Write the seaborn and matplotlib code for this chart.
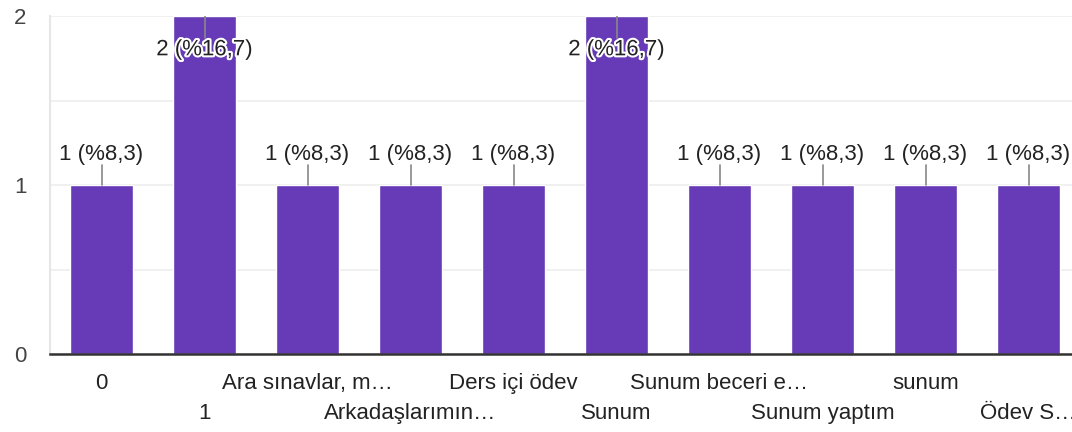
import matplotlib
matplotlib.use("Agg")
import matplotlib.pyplot as plt
import matplotlib.patheffects as pe
import seaborn as sns
import pandas as pd

# Answers and counts
categories = ["0", "1", "Ara sınavlar, m…", "Arkadaşlarımın…", "Ders içi ödev",
              "Sunum", "Sunum beceri e…", "Sunum yaptım", "sunum", "Ödev S…"]
counts = [1, 2, 1, 1, 1, 2, 1, 1, 1, 1]
percents = ["8,3", "16,7", "8,3", "8,3", "8,3", "16,7", "8,3", "8,3", "8,3", "8,3"]

df = pd.DataFrame({"answer": categories, "count": counts})

sns.set_style("white")
plt.rcParams['font.family'] = ['Liberation Sans', 'DejaVu Sans']

fig = plt.figure(figsize=(10.72, 4.32), dpi=100)
ax = fig.add_axes([50 / 1072, 1 - 354 / 432, 1030 / 1072, 338 / 432])

sns.barplot(data=df, x="answer", y="count", color="#673AB7", saturation=1,
            width=0.62, ax=ax, zorder=3)

ax.set_xlim(-0.5, len(categories) - 0.5)
ax.set_ylim(0, 2)
ax.set_yticks([0, 1, 2])
ax.set_yticks([0.5, 1.5], minor=True)
ax.grid(axis="y", which="both", color="#eeeeee", linewidth=1.2, zorder=0)

for s in ["top", "right"]:
    ax.spines[s].set_visible(False)
ax.spines["left"].set_color("#e6e6e6")
ax.spines["left"].set_linewidth(1.5)
ax.spines["bottom"].set_color("#333333")
ax.spines["bottom"].set_linewidth(1.8)
ax.spines["bottom"].set_zorder(5)

# tick labels on two alternating rows
ax.set_xticks(range(len(categories)))
ax.set_xticklabels(categories, fontsize=16, color="#222222")
ax.tick_params(axis="x", length=0)
for i, t in enumerate(ax.xaxis.get_major_ticks()):
    t.set_pad(14 if i % 2 == 0 else 35)
ax.tick_params(axis="y", which="both", length=0, pad=17, labelsize=16, labelcolor="#444444")
ax.set_xlabel("")
ax.set_ylabel("")

for i, (c, p) in enumerate(zip(counts, percents)):
    label = f"{c} (%{p})"
    if c == 2:
        ax.plot([i, i], [c, c - 0.13], color="#888888", linewidth=1.2, zorder=4)
        ax.text(i, c - 0.2, label, ha="center", va="center", fontsize=16,
                color="#222222", zorder=6,
                path_effects=[pe.withStroke(linewidth=3, foreground="white")])
    else:
        ax.plot([i, i], [c, c + 0.12], color="#888888", linewidth=1.2, zorder=4)
        ax.text(i, c + 0.18, label, ha="center", va="center", fontsize=16,
                color="#222222", zorder=6)

fig.savefig("out.png", dpi=100)
